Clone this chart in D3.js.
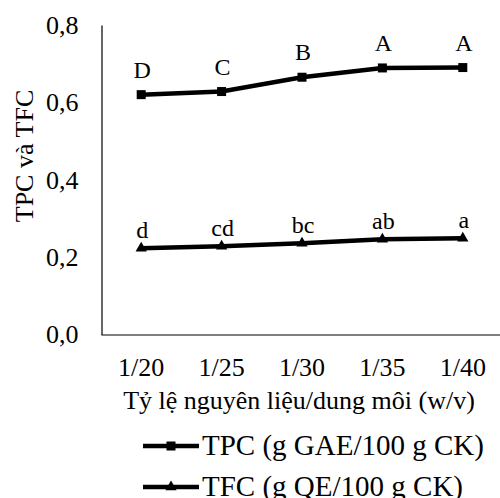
<!DOCTYPE html>
<meta charset="utf-8">
<style>
    body {
        margin: 0;
        background: #fff;
    }

    svg {
        display: block;
        font-family: "Liberation Serif", "Times New Roman", serif;
    }

    .axis path {
        stroke: #000;
        stroke-width: 1.2px;
    }

    .axis text {
        font-family: "Liberation Serif", serif;
        font-size: 26px;
        fill: #000;
    }

    .series {
        fill: none;
        stroke: #000;
        stroke-width: 4.5px;
    }

    .lbl {
        font-size: 24px;
        text-anchor: middle;
    }
</style>

<body>
    <script src="https://d3js.org/d3.v7.min.js"></script>
    <script>

        // categories (ratio of material / solvent)
        var ratios = ["1/20", "1/25", "1/30", "1/35", "1/40"];

        // series values
        var tpcValues = [0.620, 0.628, 0.665, 0.689, 0.690];
        var tfcValues = [0.223, 0.228, 0.236, 0.246, 0.249];

        // significance letters
        var tpcLetters = ["D", "C", "B", "A", "A"];
        var tfcLetters = ["d", "cd", "bc", "ab", "a"];

        var yTicks = [0, 0.2, 0.4, 0.6, 0.8];

        var seriesNames = ["TPC (g GAE/100 g CK)", "TFC (g QE/100 g CK)"];

        var width = 500,
            height = 498;

        var margin = { top: 25, left: 101, bottom: 164 };

        var svg = d3.select("body")
            .append("svg")
            .attr("width", width)
            .attr("height", height);

        var x = d3.scaleBand()
            .domain(ratios)
            .range([margin.left, 503]);

        var y = d3.scaleLinear()
            .domain([0, 0.8])
            .range([height - margin.bottom + 0.5, margin.top]);

        var locale = d3.formatLocale({ decimal: ",", thousands: ".", grouping: [3], currency: ["", ""] });
        var fmt = locale.format(".1f");

        // axes
        svg.append("g")
            .attr("class", "axis")
            .attr("transform", "translate(" + (margin.left + 0.5) + ",0)")
            .call(d3.axisLeft(y).tickValues(yTicks).tickFormat(fmt).tickSize(0).tickPadding(23));

        svg.append("g")
            .attr("class", "axis")
            .attr("transform", "translate(0," + y(0) + ")")
            .call(d3.axisBottom(x).tickSize(0).tickPadding(23));

        // titles
        svg.append("text")
            .attr("transform", "translate(33," + 156 + ") rotate(-90)")
            .attr("text-anchor", "middle")
            .style("font-size", "26px")
            .text("TPC và TFC");

        svg.append("text")
            .attr("x", 299)
            .attr("y", 409)
            .attr("text-anchor", "middle")
            .style("font-size", "26px")
            .text("Tỷ lệ nguyên liệu/dung môi (w/v)");

        var cx = function (d, i) { return x(ratios[i]) + x.bandwidth() / 2; };

        var line = d3.line()
            .x(function (d, i) { return cx(d, i); })
            .y(function (d) { return y(d); });

        var square = d3.symbol().type(d3.symbolSquare).size(81);
        var triangle = d3.symbol().type(d3.symbolTriangle).size(55);

        var series = [
            { values: tpcValues, letters: tpcLetters, marker: square, dy: 17 },
            { values: tfcValues, letters: tfcLetters, marker: triangle, dy: 10 }
        ];

        series.forEach(function (s) {
            svg.append("path")
                .datum(s.values)
                .attr("class", "series")
                .attr("d", line);

            svg.selectAll(null)
                .data(s.values)
                .enter()
                .append("path")
                .attr("transform", function (d, i) { return "translate(" + cx(d, i) + "," + y(d) + ")"; })
                .attr("d", s.marker)
                .attr("fill", "#000");

            svg.selectAll(null)
                .data(s.values)
                .enter()
                .append("text")
                .attr("class", "lbl")
                .attr("x", function (d, i) { return cx(d, i) + 1; })
                .attr("y", function (d) { return y(d) - s.dy; })
                .text(function (d, i) { return s.letters[i]; });
        });

        // legend
        var legend = svg.selectAll(".legend")
            .data(seriesNames)
            .enter()
            .append("g")
            .attr("class", "legend")
            .attr("transform", function (d, i) { return "translate(143," + (446 + i * 41) + ")"; });

        legend.append("line")
            .attr("x1", 0)
            .attr("x2", 56)
            .attr("stroke", "#000")
            .attr("stroke-width", 4.5);

        legend.append("path")
            .attr("transform", "translate(28,0)")
            .attr("d", function (d, i) { return series[i].marker(); })
            .attr("fill", "#000");

        legend.append("text")
            .attr("x", 59)
            .attr("y", 9)
            .style("font-size", "29px")
            .text(function (d) { return d; });

    </script>
</body>
